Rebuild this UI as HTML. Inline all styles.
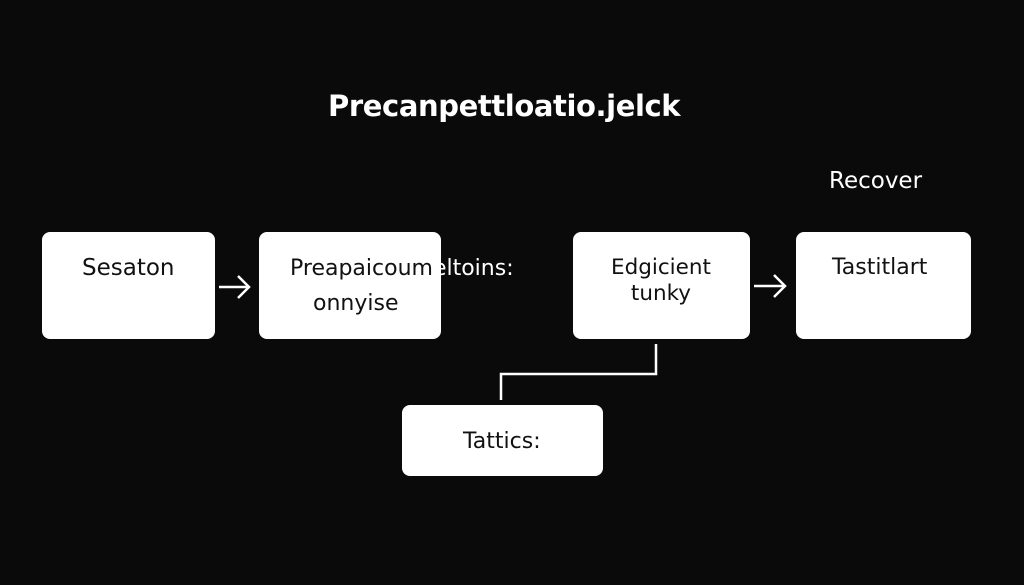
<!DOCTYPE html>
<html><head><style>
body{margin:0;width:1024px;height:585px;background:#0a0a0a;position:relative;overflow:hidden;font-family:"DejaVu Sans","Liberation Sans",sans-serif;color:#111}
.b{position:absolute;background:#fff;border-radius:8px}
.t{position:absolute;white-space:nowrap;font-size:22px}
.w{color:#fff}
</style></head><body>
<div class="t w" style="left:328px;top:89px;font-size:29px;font-weight:bold;letter-spacing:-0.4px">Precanpettloatio.jelck</div>
<div class="t w" style="left:829px;top:168px;font-size:23px">Recover</div>
<div class="b" style="left:42px;top:232px;width:173px;height:107px"></div>
<div class="b" style="left:259px;top:232px;width:182px;height:107px"></div>
<div class="b" style="left:573px;top:232px;width:177px;height:107px"></div>
<div class="b" style="left:796px;top:232px;width:175px;height:107px"></div>
<div class="b" style="left:402px;top:405px;width:201px;height:71px"></div>
<div class="t" style="left:82px;top:255px;font-size:23px">Sesaton</div>
<div class="t" style="left:290px;top:256px">Preapaicoum<span class="w">eltoins:</span></div>
<div class="t" style="left:313px;top:291px">onnyise</div>
<div class="t" style="left:611px;top:255px;text-align:center;line-height:26px;font-size:21.5px">Edgicient<br>tunky</div>
<div class="t" style="left:832px;top:255px">Tastitlart</div>
<div class="t" style="left:463px;top:429px">Tattics:</div>
<svg width="1024" height="585" style="position:absolute;left:0;top:0" fill="none" stroke="#fff" stroke-width="2.5">
<path d="M219 287H249M238 276L249 287L238 298"/>
<path d="M754 286H785M774 275L785 286L774 297"/>
<path d="M656 344V374H501V400"/>
</svg>
</body></html>
